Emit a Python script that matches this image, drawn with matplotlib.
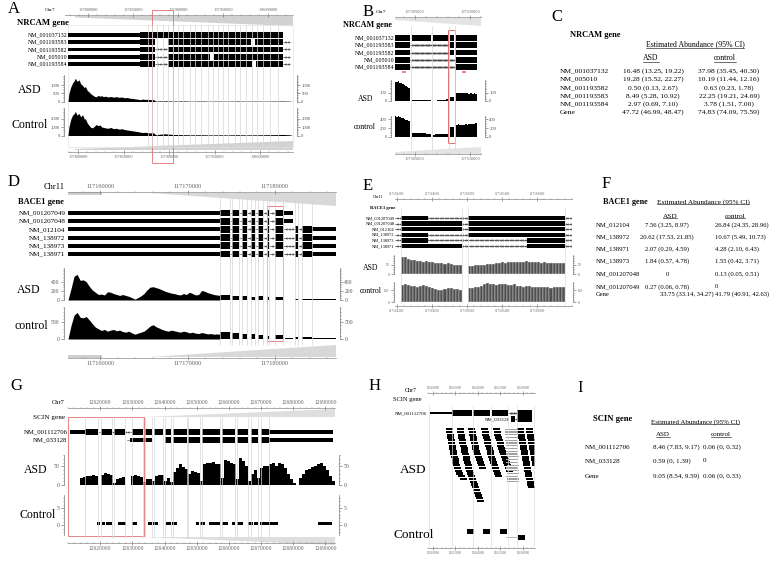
import numpy as np
import matplotlib
matplotlib.use("Agg")
import matplotlib.pyplot as plt
from matplotlib.patches import Rectangle, Polygon
from matplotlib.lines import Line2D
from matplotlib.ticker import AutoMinorLocator

plt.rcParams['font.family'] = ['Liberation Serif', 'DejaVu Serif']

W, H = 773, 561
GUIDE = '#d6d6d6'
RED = '#e07070'

# ---------------- panel A : NRCAM, whole gene ----------------
A_xlim = (107789000, 108036000)
A_top_xlim = (107774400, 108027800)
A_ticks = [107800000, 107850000, 107900000, 107950000, 108000000]
A_names = ["NM_001037132", "NM_001193583", "NM_001193582", "NM_005010", "NM_001193584"]
A_utr = [(107789, 107868)]
A_exons = [
    [(107868, 108025)],
    [(107868, 107884), (107899, 107990), (107994, 108025)],
    [(107868, 107884), (107899, 108025)],
    [(107868, 107884), (107899, 107945), (107949, 108025)],
    [(107868, 107884), (107899, 107991), (107995, 108025)],
]
A_introns = [
    [],
    [(108025, 108033)],
    [(107884, 107899), (108025, 108033)],
    [(107884, 107899), (108025, 108033)],
    [(107884, 107899), (108025, 108033)],
]
A_guides = [107877, 107881, 107887, 107893, 107899, 107904, 107910, 107915, 107923, 107928,
            107935, 107943, 107948, 107954, 107959, 107965, 107972, 107978, 107984, 107991,
            107997, 108003, 108011, 108020]
A_red = (107881, 107904)
A_cov_kb = [107789, 107790, 107792, 107794, 107796, 107797, 107799, 107801, 107803, 107805,
            107807, 107808, 107810, 107812, 107814, 107816, 107818, 107820, 107822, 107824,
            107826, 107828, 107830, 107833, 107836, 107839, 107842, 107845, 107848, 107851,
            107854, 107857, 107860, 107863, 107866, 107868, 107871, 107874, 107877, 107880,
            107883, 107885, 107895, 107905, 107915, 107925, 107935, 107945, 107955, 107965,
            107975, 107985, 107995, 108005, 108015, 108025, 108033, 108035]
A_asd = [0, 500, 900, 1150, 1300, 1450, 1250, 1350, 1100, 1000,
         850, 950, 700, 600, 480, 400, 320, 290, 380, 330,
         360, 300, 330, 280, 310, 270, 300, 260, 280, 230,
         250, 200, 190, 160, 140, 110, 150, 130, 140, 110,
         120, 30, 40, 25, 35, 20, 30, 20, 25, 20,
         30, 20, 25, 20, 25, 30, 20, 0]
A_control = [0, 1000, 1900, 2400, 2600, 2850, 2400, 2600, 2200, 2450,
             1900, 2000, 1500, 1200, 950, 900, 1100, 1300, 1150, 1250,
             1000, 950, 900, 850, 950, 800, 850, 750, 800, 700,
             650, 600, 550, 500, 450, 400, 350, 380, 330, 300,
             320, 100, 200, 120, 100, 80, 90, 70, 80, 70,
             90, 70, 80, 90, 100, 120, 80, 0]

# ---------------- panel B : NRCAM, zoom ----------------
B_xlim = (107503200, 107511000)
B_ticks = [107505000, 107510000]
B_names = A_names[:3] + ["NM_005010", "NM_001193584"]
B_blocks = [(107503200, 107504560), (107504740, 107506470), (107506650, 107508010),
            (107508190, 107508550), (107508730, 107510640)]
B_use = [[0, 1, 2, 3, 4], [0, 3, 4], [0, 3, 4], [0, 4], [0, 4]]
B_introns = [[], [(107504560, 107508190)], [(107504560, 107508190)],
             [(107504560, 107508730)], [(107504560, 107508730)]]
B_guides = [107504650, 107506560, 107508100, 107508640]
B_red = (107508010, 107508640)
B_marks = [107504000, 107509500]
B_asd = [[230, 228, 236, 220, 212, 200, 190, 175, 165, 158],
         [12, 10, 11, 9, 10, 8, 9, 10],
         [4, 5, 6, 8, 10, 12, 15, 18],
         [48, 52],
         [100, 95, 98, 92, 96, 90, 93, 88, 92, 86, 90, 85]]
B_control = [[460, 455, 470, 440, 420, 430, 400, 380, 370, 360],
             [100, 95, 90, 88, 85, 80, 75, 70],
             [55, 58, 60, 62, 60, 65, 70, 68],
             [220, 230],
             [270, 280, 265, 275, 260, 280, 270, 285, 290, 300, 295, 310]]

# ---------------- panel C : NRCAM table ----------------
C_transcripts = ["NM_001037132", "NM_005010", "NM_001193582", "NM_001193583", "NM_001193584", "Gene"]
C_asd = ["16.48 (13.25, 19.22)", "19.28 (15.52, 22.27)", "0.50 (0.13, 2.67)",
         "8.49 (5.28, 10.92)", "2.97 (0.69, 7.10)", "47.72 (46.99, 48.47)"]
C_control = ["37.98 (35.45, 40.30)", "10.19 (11.44, 12.16)", "0.63 (0.23, 1.78)",
             "22.25 (19.21, 24.69)", "3.78 (1.51, 7.00)", "74.83 (74.09, 75.59)"]

# ---------------- panel D : BACE1, whole gene ----------------
D_xlim = (117156300, 117187000)
D_ticks = [117160000, 117170000, 117180000]
D_names = ["NM_001207049", "NM_001207048", "NM_012104", "NM_138972", "NM_138973", "NM_138971"]
D_core = [(117173700, 117174850), (117175080, 117175880), (117176220, 117176800),
          (117177250, 117177710), (117178060, 117178630), (117179090, 117179320),
          (117180000, 117180920)]
D_core_gaps = [(117174850, 117175080), (117175880, 117176220), (117176800, 117177250),
               (117177710, 117178060), (117178630, 117179090), (117179320, 117180000)]
D_tail_short = [(117180920, 117182060)]
D_tail_long_exons = [(117182290, 117182640), (117183090, 117184240)]
D_tail_long_introns = [(117180920, 117182290), (117182640, 117183090)]
D_utr5 = (117156300, 117173700)
D_utr3 = (117184240, 117187000)
D_red = (117179090, 117180920)
D_asd_profile = [0, 250, 520, 560, 430, 440, 400, 300, 220, 170,
                 120, 130, 110, 180, 170, 140, 120, 100, 120, 100,
                 80, 50, 20, 50, 90, 140, 220, 280, 290, 270,
                 250, 220, 190, 170, 150, 140, 120, 110, 140, 120,
                 170, 140, 110, 120, 210, 190, 160, 140, 120, 110, 100]
D_control_profile = [0, 400, 700, 780, 640, 620, 660, 560, 450, 350,
                     300, 250, 280, 230, 260, 280, 240, 260, 220, 200,
                     230, 180, 140, 170, 200, 230, 300, 380, 420, 360,
                     320, 280, 250, 230, 260, 240, 220, 200, 230, 210,
                     180, 200, 170, 160, 190, 170, 150, 160, 140, 150, 140]
D_cov_blocks = D_core + [(117181150, 117182060)] + D_tail_long_exons + [D_utr3]
D_asd_blocks = [110, 90, 80, 70, 90, 60, 60, 10, 25, 22, 15]
D_control_blocks = [200, 170, 140, 150, 120, 100, 110, 20, 60, 50, 40]

# ---------------- panel E : BACE1, zoom ----------------
E_xlim = (117164180, 117166200)
E_ticks = [117164200, 117164600, 117165000, 117165400, 117165800]
E_names = D_names
E_left_short = (117164246, 117164554)
E_left_long = (117164246, 117164942)
E_right_long = (117165010, 117166116)
E_right_short = (117165683, 117166116)
E_rows = [[E_left_short, E_right_long], [E_left_long, E_right_long], [E_left_long, E_right_long],
          [E_left_short, E_right_long], [E_left_short, E_right_short], [E_left_long, E_right_short]]
E_asd_left = [95, 92, 85, 80, 75, 72, 70, 68, 70, 66, 64, 62, 63, 60, 58, 60, 55, 52, 50, 48]
E_asd_right = [46, 45, 48, 50, 47, 52, 55, 57, 58, 60, 62, 64, 63, 66, 68, 67,
               69, 66, 68, 70, 67, 65, 66, 64, 63, 65, 62, 60, 62, 61, 60, 59]
E_control_left = [145, 150, 148, 140, 135, 130, 138, 142, 135, 130, 120, 110, 100, 105, 110, 120,
                  118, 112, 108, 105]
E_control_right = [120, 118, 125, 130, 140, 150, 158, 155, 150, 148, 152, 155, 150, 145, 148, 150,
                   140, 135, 130, 138, 132, 128, 130, 125, 128, 130, 126, 122, 128, 125, 130, 128]

# ---------------- panel F : BACE1 table ----------------
F_transcripts = ["NM_012104", "NM_138972", "NM_138971", "NM_138973", "NM_001207048", "NM_001207049", "Gene"]
F_asd = ["7.56 (3.25, 8.97)", "20.62 (17.53, 21.85)", "2.07 (0.29, 4.59)", "1.84 (0.57, 4.78)",
         "0", "0.27 (0.06, 0.78)", "33.75 (33.14, 34.27)"]
F_control = ["26.84 (24.35, 28.96)", "10.67 (5.49, 10.73)", "4.28 (2.10, 6.43)", "1.55 (0.42, 3.71)",
             "0.13 (0.05, 0.51)", "0", "41.79 (40.91, 42.63)"]

# ---------------- panel G : SCIN, whole gene ----------------
G_xlim = (12610000, 12693000)
G_ticks = [12620000, 12630000, 12640000, 12650000, 12660000, 12670000, 12680000, 12690000]
G_names = ["NM_001112706", "NM_033128"]
G_exons1 = [(12615340, 12619380), (12620310, 12623730), (12624350, 12627770), (12629940, 12633360),
            (12633980, 12636150), (12636770, 12639570), (12640190, 12642050), (12642670, 12647020),
            (12647330, 12651060), (12651680, 12657270), (12657890, 12661930), (12662550, 12665970),
            (12666900, 12669070), (12670000, 12672490)]
G_utr1 = [(12610680, 12615340), (12672490, 12692370)]
G_utr2 = [(12629400, 12636150), (12672490, 12692370)]
G_red = (12610000, 12633670)
G_asd = [0, 0, 0, 0, 18, 22, 25, 24, 27, 25,
         0, 28, 32, 30, 26, 5, 15, 18, 22, 0,
         0, 25, 26, 24, 22, 8, 15, 16, 10, 24,
         28, 26, 12, 20, 8, 35, 45, 55, 48, 42,
         30, 38, 35, 32, 10, 55, 60, 58, 62, 57,
         55, 20, 68, 65, 60, 55, 15, 72, 65, 50,
         10, 30, 40, 20, 45, 50, 52, 55, 58, 52,
         60, 55, 45, 30, 15, 5, 0, 20, 30, 40,
         42, 48, 50, 55, 58, 50, 40, 25, 10]
G_control_blocks = [(12619070, 12620000), (12620620, 12621550), (12621860, 12623730),
                    (12625590, 12628080), (12629940, 12631490), (12634910, 12636150),
                    (12636460, 12638010), (12640500, 12642050), (12642360, 12643920),
                    (12649820, 12650750), (12651060, 12652610), (12653860, 12657270),
                    (12657890, 12659760), (12661000, 12661930), (12662550, 12664420),
                    (12665970, 12667520), (12667830, 12669070), (12669700, 12675290),
                    (12687710, 12692060)]
G_control_depth = [1] * len(G_control_blocks)

# ---------------- panel H : SCIN, read pile-up ----------------
H_xlim = (12608890, 12632670)
H_ticks = [12610000, 12615000, 12620000, 12625000, 12630000]
H_row1_utr = [(12609330, 12614220)]
H_row1_exons = [(12614220, 12618670), (12618890, 12622670), (12623110, 12626670), (12628670, 12632000)]
H_row2_exons = [(12627330, 12628220), (12628670, 12632000)]
H_guides = [12614220, 12618780, 12622890, 12626670, 12628670]
H_read_len = 1.55
H_spliced_len = 2.7
H_reads = [
    [12612.9, 12612.9, 12613.1, 12613.1, 12613.3, 12613.3, 12613.6, 12613.6, 12613.8, 12613.8,
     12614.0, 12614.2, 12614.2, 12614.4, 12614.7, 12614.9, 12615.1, 12615.6, 12616.0],
    [12615.3, 12615.3, 12615.6, 12615.6, 12615.8, 12615.8, 12616.0, 12616.2, 12616.2, 12616.4,
     12616.7, 12616.7, 12616.9, 12617.1, 12617.1, 12617.3, 12617.6, 12617.8, 12618.0, 12618.2,
     12618.4, 12618.7, 12618.9, 12619.1, 12619.3, 12619.6, 12619.8],
    [12617.8, 12618.0, 12618.0, 12618.2, 12618.2, 12618.4, 12618.7, 12618.7, 12618.9, 12619.1,
     12619.3, 12619.6, 12619.8, 12620.0, 12620.2],
    [12620.7, 12620.9, 12620.9, 12621.1, 12621.3, 12621.3, 12621.5, 12621.8, 12622.0, 12622.0,
     12622.2, 12622.4, 12622.7, 12622.9, 12623.1, 12623.3, 12623.5, 12623.8],
    [12623.3, 12623.5, 12623.5, 12623.8, 12624.0, 12624.2, 12624.2, 12624.4, 12624.7, 12624.9,
     12625.1, 12625.3, 12625.5, 12625.8, 12626.0, 12626.2],
    [12628.6, 12628.6, 12628.9, 12628.9, 12629.1, 12629.1, 12629.3, 12629.3, 12629.5, 12629.5,
     12629.8, 12629.8, 12630.0, 12630.0, 12630.2, 12630.2, 12630.4, 12630.4, 12630.7, 12630.9,
     12630.9, 12631.1],
    [12630.7, 12630.7, 12630.9, 12630.9, 12631.1, 12631.1, 12631.3, 12631.3, 12631.5, 12631.5,
     12631.8, 12631.8, 12632.0, 12632.0],
]
H_spliced = [12626.0, 12626.0, 12626.0, 12626.2, 12626.0, 12626.2, 12626.2, 12626.0, 12626.2, 12626.2,
             12626.4, 12626.2, 12626.2, 12626.4, 12626.2, 12626.4, 12626.4, 12626.2, 12626.4, 12626.4]
H_control_reads = [12617.5, 12621.1, 12624.9, 12628.9]
H_control_rows = [0, 0, 0, 1]
H_control_spliced = [(12626.2, 12628.9)]

# ---------------- panel I : SCIN table ----------------
I_transcripts = ["NM_001112706", "NM_033128", "Gene"]
I_asd = ["8.46 (7.83, 9.17)", "0.59 (0, 1.39)", "9.05 (8.54, 9.59)"]
I_control = ["0.06 (0, 0.32)", "0", "0.06 (0, 0.33)"]


fig = plt.figure(figsize=(W / 100, H / 100), dpi=100)
bg = fig.add_axes([0, 0, 1, 1], zorder=0)
bg.set_xlim(0, W)
bg.set_ylim(H, 0)
bg.axis('off')


def box(x0, y0, x1, y1, z=1):
    ax = fig.add_axes([x0 / W, 1 - y1 / H, (x1 - x0) / W, (y1 - y0) / H], zorder=z)
    ax.patch.set_alpha(0)
    return ax


def txt(x, y, s, size, ha='left', **kw):
    return fig.text(x / W, 1 - y / H, s, fontsize=size, ha=ha, va='center', **kw)


def genome_axis(x0, x1, y, xlim, ticks, above, size):
    if above:
        ax = box(x0, y, x1, y + 2)
        side = 'top'
        ax.xaxis.tick_top()
    else:
        ax = box(x0, y - 2, x1, y)
        side = 'bottom'
    for s in ax.spines:
        ax.spines[s].set_visible(s == side)
    ax.spines[side].set_color('#8a8a8a')
    ax.spines[side].set_linewidth(0.5)
    ax.set_xlim(xlim)
    ax.set_yticks([])
    ax.set_xticks(ticks)
    ax.set_xticklabels([str(t) for t in ticks])
    ax.xaxis.set_minor_locator(AutoMinorLocator(5))
    ax.tick_params(axis='x', which='major', labelsize=size, colors='#666666', length=2.5,
                   width=0.4, pad=1, direction='inout')
    ax.tick_params(axis='x', which='minor', length=1.2, width=0.3, colors='#8a8a8a',
                   direction='inout')
    return ax


def gene_track(x0, y0, x1, y1, xlim, names, exons, utrs, introns, size, gap=0.004,
               hexon=0.8, hutr=0.5, label_at=None):
    ax = box(x0, y0, x1, y1, z=2)
    ax.set_xlim(xlim)
    ax.set_ylim(len(names) - 0.5, -0.5)
    ax.axis('off')
    span = xlim[1] - xlim[0]
    for i, name in enumerate(names):
        for s, e in introns[i]:
            ax.plot([s, e], [i, i], color='#444444', lw=0.4, zorder=1)
            n = int((e - s) / span * 70)
            if n > 0:
                xs = np.linspace(s, e, n + 2)[1:-1]
                ax.plot(xs, [i] * len(xs), ls='none', marker='<', ms=1.3, mew=0.2,
                        color='#444444', zorder=1)
        for s, e in utrs[i]:
            ax.add_patch(Rectangle((s, i - hutr / 2), e - s, hutr, color='black', lw=0, zorder=2))
        for s, e in exons[i]:
            ax.add_patch(Rectangle((s, i - hexon / 2), e - s, hexon, color='black', lw=0, zorder=2))
        if label_at is not None and label_at[i] is not None:
            ax.text(label_at[i], i, name, ha='right', va='center', fontsize=size)
        else:
            ax.text(-gap, i, name, transform=ax.get_yaxis_transform(), ha='right',
                    va='center', fontsize=size)
    return ax


def cov_frame(x0, y0, x1, y1, xlim, ylim, ticks, size, out=3):
    ax = box(x0, y0, x1, y1, z=2)
    ax.set_xlim(xlim)
    ax.set_ylim(ylim)
    ax.spines['top'].set_visible(False)
    ax.spines['bottom'].set_visible(False)
    for s in ('left', 'right'):
        ax.spines[s].set_color('#777777')
        ax.spines[s].set_linewidth(0.5)
        ax.spines[s].set_position(('outward', out))
    ax.set_xticks([])
    ax.set_yticks(ticks)
    ax.yaxis.set_minor_locator(AutoMinorLocator(5))
    ax.tick_params(axis='y', which='both', left=True, right=True, labelleft=True,
                   labelright=True, labelsize=size, colors='#555555', width=0.4, pad=1)
    ax.tick_params(axis='y', which='major', length=2)
    ax.tick_params(axis='y', which='minor', length=1)
    return ax


def overlay(x0, y0, x1, y1, xlim):
    ax = box(x0, y0, x1, y1, z=5)
    ax.set_xlim(xlim)
    ax.set_ylim(y1, y0)
    ax.axis('off')
    return ax


def block_bars(ax, blocks, values, color='black', edge='none', lw=0):
    for (s, e), vals in zip(blocks, values):
        edges = np.linspace(s, e, len(vals) + 1)
        ax.bar(edges[:-1], vals, width=(e - s) / len(vals), align='edge', color=color,
               edgecolor=edge, linewidth=lw)


kb = lambda pairs: [(s * 1000, e * 1000) for s, e in pairs]

# =============== A ===============
txt(8, 9, "A", 12)
txt(50, 10, "Chr7", 3.8, ha='center')
genome_axis(65, 293, 15, A_top_xlim, A_ticks, True, 3.2)
bg.add_patch(Polygon([(75, 16), (293, 16), (293, 26), (75, 17.5)], color='#d2d2d2', lw=0))
bg.add_patch(Polygon([(75, 149), (293, 141), (293, 150), (75, 150)], color='#d2d2d2', lw=0))
bg.add_patch(Rectangle((68, 25), 225, 122, fill=False, ec='#e3e3e3', lw=0.5))
txt(17, 23, "NRCAM gene", 6.2, weight='bold')
gene_track(68, 31.4, 293, 67.6, A_xlim, A_names, [kb(r) for r in A_exons],
           [kb(A_utr)] * 5, [kb(r) for r in A_introns], 4.3)
ax = cov_frame(68, 75, 293, 101.5, A_xlim, (0, 1650), [0, 500, 1000], 3.4)
ax.fill_between(np.array(A_cov_kb) * 1000, A_asd, color='black', lw=0)
ax = cov_frame(68, 108, 293, 135.5, A_xlim, (0, 3240), [0, 1000, 2000], 3.4)
ax.fill_between(np.array(A_cov_kb) * 1000, A_control, color='black', lw=0)
txt(30, 90, "ASD", 8.5, ha='center')
txt(30, 125, "Control", 8.5, ha='center')
genome_axis(68, 293, 152, A_xlim, A_ticks, False, 3.2)
ov = overlay(68, 5, 293, 165, A_xlim)
ov.vlines(np.array(A_guides) * 1000, 25, 147, color=GUIDE, lw=0.5)
ov.add_patch(Rectangle((A_red[0] * 1000, 10), (A_red[1] - A_red[0]) * 1000, 153,
                       fill=False, ec=RED, lw=0.6))

# =============== B ===============
txt(363, 12, "B", 12)
txt(381, 12, "Chr7", 3.8, ha='center')
genome_axis(395, 481, 17, B_xlim, B_ticks, True, 3.2)
bg.add_patch(Polygon([(395, 18), (481, 18), (481, 26), (395, 20)], color='#e4e4e4', lw=0))
bg.add_patch(Polygon([(395, 152), (481, 147), (481, 154), (395, 154)], color='#e4e4e4', lw=0))
txt(343, 25, "NRCAM gene", 5.9, weight='bold')
gene_track(395, 34.4, 481, 70.6, B_xlim, B_names,
           [[B_blocks[j] for j in r] for r in B_use], [[]] * 5, B_introns, 4.3)
ax = cov_frame(395, 80, 481, 101, B_xlim, (0, 250), [0, 100], 3.4)
block_bars(ax, B_blocks, B_asd)
ax = cov_frame(395, 116, 481, 137, B_xlim, (0, 470), [0, 200, 400], 3.4)
block_bars(ax, B_blocks, B_control)
txt(366, 99, "ASD", 5.6, ha='center')
txt(365, 127, "control", 5.6, ha='center')
genome_axis(395, 481, 154, B_xlim, B_ticks, False, 3.2)
ov = overlay(395, 5, 481, 165, B_xlim)
ov.vlines(B_guides, 26, 150, color=GUIDE, lw=0.5)
ov.plot(B_marks, [72, 72], ls='none', marker='_', ms=3, mew=1.2, color=RED)
ov.add_patch(Rectangle((B_red[0], 30), B_red[1] - B_red[0], 113, fill=False, ec=RED, lw=0.7))

# =============== C ===============
tables = []
txt(551, 17, "C", 12)
txt(570, 35, "NRCAM gene", 6.0, weight='bold')
tables.append(txt(695, 44, "Estimated Abundance (95% CI)", 5.6, ha='center'))
tables.append(txt(651, 58, "ASD", 5.6, ha='center'))
tables.append(txt(725, 58, "control", 5.6, ha='center'))
for k, (name, a, c) in enumerate(zip(C_transcripts, C_asd, C_control)):
    y = [71, 79, 88, 96, 104, 112][k]
    txt(560, y, name, 5.4)
    txt(653, y, a, 5.4, ha='center')
    txt(729, y, c, 5.4, ha='center')

# =============== D ===============
txt(8, 182, "D", 12)
txt(54, 187, "Chr11", 6.0, ha='center')
genome_axis(68, 336, 192, D_xlim, D_ticks, True, 4.6)
bg.add_patch(Rectangle((68, 192), 34, 3, color='#cfcfcf', lw=0))
bg.add_patch(Polygon([(150, 193), (336, 193), (336, 206)], color='#d8d8d8', lw=0))
bg.add_patch(Rectangle((68, 355), 34, 3, color='#cfcfcf', lw=0))
bg.add_patch(Polygon([(150, 357), (336, 345), (336, 357)], color='#d8d8d8', lw=0))
txt(18, 202, "BACE1 gene", 6.0, weight='bold')
D_exon_rows, D_utr_rows, D_intron_rows = [], [], []
for i in range(6):
    if i < 2:
        D_exon_rows.append(D_core)
        D_utr_rows.append([D_utr5] + D_tail_short)
        D_intron_rows.append(D_core_gaps)
    else:
        D_exon_rows.append(D_core + D_tail_long_exons)
        D_utr_rows.append([D_utr5, D_utr3])
        D_intron_rows.append(D_core_gaps + D_tail_long_introns)
gene_track(68, 209, 336, 258, D_xlim, D_names, D_exon_rows, D_utr_rows, D_intron_rows, 5.1,
           gap=0.01)
D_grid = np.linspace(D_utr5[0], D_utr5[1], len(D_asd_profile))
ax = cov_frame(68, 268, 336, 300, D_xlim, (0, 700), [0, 200, 400], 4.0)
ax.fill_between(D_grid, D_asd_profile, color='black', lw=0)
ax.bar([s for s, e in D_cov_blocks], D_asd_blocks, width=[e - s for s, e in D_cov_blocks],
       align='edge', color='black', lw=0)
ax = cov_frame(68, 307, 336, 339, D_xlim, (0, 940), [0, 500], 4.0)
ax.fill_between(D_grid, D_control_profile, color='black', lw=0)
ax.bar([s for s, e in D_cov_blocks], D_control_blocks, width=[e - s for s, e in D_cov_blocks],
       align='edge', color='black', lw=0)
txt(29, 290, "ASD", 8.5, ha='center')
txt(31, 326, "control", 8.5, ha='center')
genome_axis(68, 336, 358, D_xlim, D_ticks, False, 4.6)
ov = overlay(68, 180, 336, 365, D_xlim)
D_edges = sorted({p for blk in D_core + D_tail_long_exons for p in blk})
ov.vlines(D_edges, 196, 345, color=GUIDE, lw=0.5)
ov.add_patch(Rectangle((D_red[0], 206), D_red[1] - D_red[0], 135, fill=False, ec=RED, lw=0.6))

# =============== E ===============
txt(363, 186, "E", 12)
txt(378, 197, "Chr11", 3.2, ha='center')
genome_axis(395, 572, 199, E_xlim, E_ticks, True, 2.4)
txt(370, 208, "BACE1 gene", 3.3, weight='bold')
gene_track(395, 215.2, 572, 248.8, E_xlim, E_names, E_rows, [[]] * 6,
           [[E_xlim]] * 6, 3.2, gap=0.002)
ax = cov_frame(395, 255, 572, 274, E_xlim, (0, 105), [0, 50], 2.6, out=1)
block_bars(ax, [E_left_long, E_right_long], [E_asd_left, E_asd_right], color='#4f4f4f',
           edge='white', lw=0.25)
ax = cov_frame(395, 282, 572, 302, E_xlim, (0, 170), [0, 100], 2.6, out=1)
block_bars(ax, [E_left_long, E_right_long], [E_control_left, E_control_right], color='#4f4f4f',
           edge='white', lw=0.25)
txt(371, 268, "ASD", 5.6, ha='center')
txt(371, 291, "control", 5.6, ha='center')
genome_axis(395, 572, 306, E_xlim, E_ticks, False, 2.4)
ov = overlay(395, 195, 572, 312, E_xlim)
ov.vlines([E_left_long[0], E_left_long[1], E_right_long[0], E_right_long[1]], 207, 303,
          color='#dddddd', lw=0.5)

# =============== F ===============
txt(602, 184, "F", 12)
txt(603, 202, "BACE1 gene", 5.9, weight='bold')
tables.append(txt(703, 202, "Estimated Abundance (95% CI)", 5.2, ha='center'))
tables.append(txt(670, 216, "ASD", 5.2, ha='center'))
tables.append(txt(735, 216, "control", 5.2, ha='center'))
for k, (name, a, c) in enumerate(zip(F_transcripts, F_asd, F_control)):
    y = [225, 237, 249, 261, 274, 287, 294][k]
    txt(596, y, name, 4.8)
    if name == "Gene":
        txt(660, y, a, 4.8)
    else:
        txt(667, y, a, 4.8, ha='center')
    txt(715, y, c, 4.8)

# =============== G ===============
txt(10, 386, "G", 12)
txt(58, 402, "Chr7", 4.6, ha='center')
genome_axis(68, 335, 408, G_xlim, G_ticks, True, 4.0)
bg.add_patch(Polygon([(145, 417), (335, 409), (335, 417)], color='#dedede', lw=0))
bg.add_patch(Polygon([(145, 537), (335, 545), (335, 537)], color='#dedede', lw=0))
txt(33, 418, "SCIN gene", 5.2)
gene_track(68, 428, 335, 444, G_xlim, G_names,
           [G_exons1, G_exons1[6:]], [G_utr1, G_utr2],
           [[(12619380, 12629940)], [(12628390, 12629400)]], 4.9, gap=0.002, hexon=0.78, hutr=0.5)
ax = cov_frame(68, 455, 335, 485, G_xlim, (0, 80), [0, 50], 4.0)
G_edges = np.linspace(G_xlim[0], G_xlim[1], len(G_asd) + 1)
ax.bar(G_edges[:-1], G_asd, width=G_edges[1] - G_edges[0], align='edge', color='black', lw=0)
ax = cov_frame(68, 495, 335, 535, G_xlim, (-2.9, 8.8), [0, 5], 4.0)
ax.bar([s for s, e in G_control_blocks], G_control_depth,
       width=[e - s for s, e in G_control_blocks], align='edge', color='black', lw=0)
txt(36, 470, "ASD", 8.5, ha='center')
txt(38, 515, "Control", 8.5, ha='center')
genome_axis(68, 335, 543, G_xlim, G_ticks, False, 4.0)
ov = overlay(68, 395, 335, 550, G_xlim)
G_guides = sorted({p for blk in G_exons1 for p in blk})
ov.vlines(G_guides, 417, 538, color=GUIDE, lw=0.5)
ov.add_patch(Rectangle((G_red[0], 417), G_red[1] - G_red[0], 119, fill=False, ec=RED, lw=0.6))

# =============== H ===============
txt(369, 386, "H", 12)
txt(411, 390, "Chr7", 4.2, ha='center')
genome_axis(428, 535, 393, H_xlim, H_ticks, True, 2.3)
txt(393, 400, "SCIN gene", 4.7)
gene_track(428, 410, 535, 422, H_xlim, G_names, [H_row1_exons, H_row2_exons],
           [H_row1_utr, []], [[(12626670, 12628670)], [(12628220, 12628670)]], 3.5,
           gap=0.01, hexon=0.85, hutr=0.35, label_at=[None, 12627100])
ax = box(428, 427, 535, 508, z=2)
ax.set_xlim(H_xlim)
ax.set_ylim(28.5, -0.8)
ax.axis('off')
for grp in H_reads:
    ax.barh(range(len(grp)), [H_read_len * 1000] * len(grp), left=np.array(grp) * 1000,
            height=0.85, color='black', lw=0)
ax.barh(range(len(H_spliced)), [H_spliced_len * 1000] * len(H_spliced),
        left=np.array(H_spliced) * 1000, height=0.45, color='#a0a0a0', lw=0)
txt(413, 470, "ASD", 9.5, ha='center')
ax = box(428, 528, 535, 541, z=2)
ax.set_xlim(H_xlim)
ax.set_ylim(1.6, -0.6)
ax.axis('off')
for s, e in H_control_spliced:
    ax.plot([s * 1000, e * 1000], [1, 1], color='#777777', lw=0.4)
ax.barh(H_control_rows, [H_read_len * 1000] * len(H_control_reads),
        left=np.array(H_control_reads) * 1000, height=0.7, color='black', lw=0)
txt(414, 535, "Control", 9.5, ha='center')
genome_axis(428, 535, 548, H_xlim, H_ticks, False, 2.3)
ov = overlay(428, 395, 535, 550, H_xlim)
ov.vlines([H_xlim[0] + 200, H_xlim[1] - 200] + H_guides, 405, 546, color='#dddddd', lw=0.5)

# =============== I ===============
txt(577, 388, "I", 12)
txt(593, 419, "SCIN gene", 6.2, weight='bold')
tables.append(txt(695, 422, "Estimated Abundance (95% CI)", 5.0, ha='center'))
tables.append(txt(663, 435, "ASD", 5.0, ha='center'))
tables.append(txt(721, 435, "control", 5.0, ha='center'))
for k, (name, a, c) in enumerate(zip(I_transcripts, I_asd, I_control)):
    y = [447, 461, 476][k]
    txt(585, y, name, 5.0)
    txt(653, y, a, 5.0)
    txt(703, y, c, 5.0)

# underline table headers
fig.canvas.draw()
r = fig.canvas.get_renderer()
for t in tables:
    bb = t.get_window_extent(r)
    fig.add_artist(Line2D([bb.x0 / W, bb.x1 / W], [(bb.y0 + 0.5) / H] * 2,
                          transform=fig.transFigure, color='black', lw=0.4))

fig.savefig("out.png", dpi=100)
